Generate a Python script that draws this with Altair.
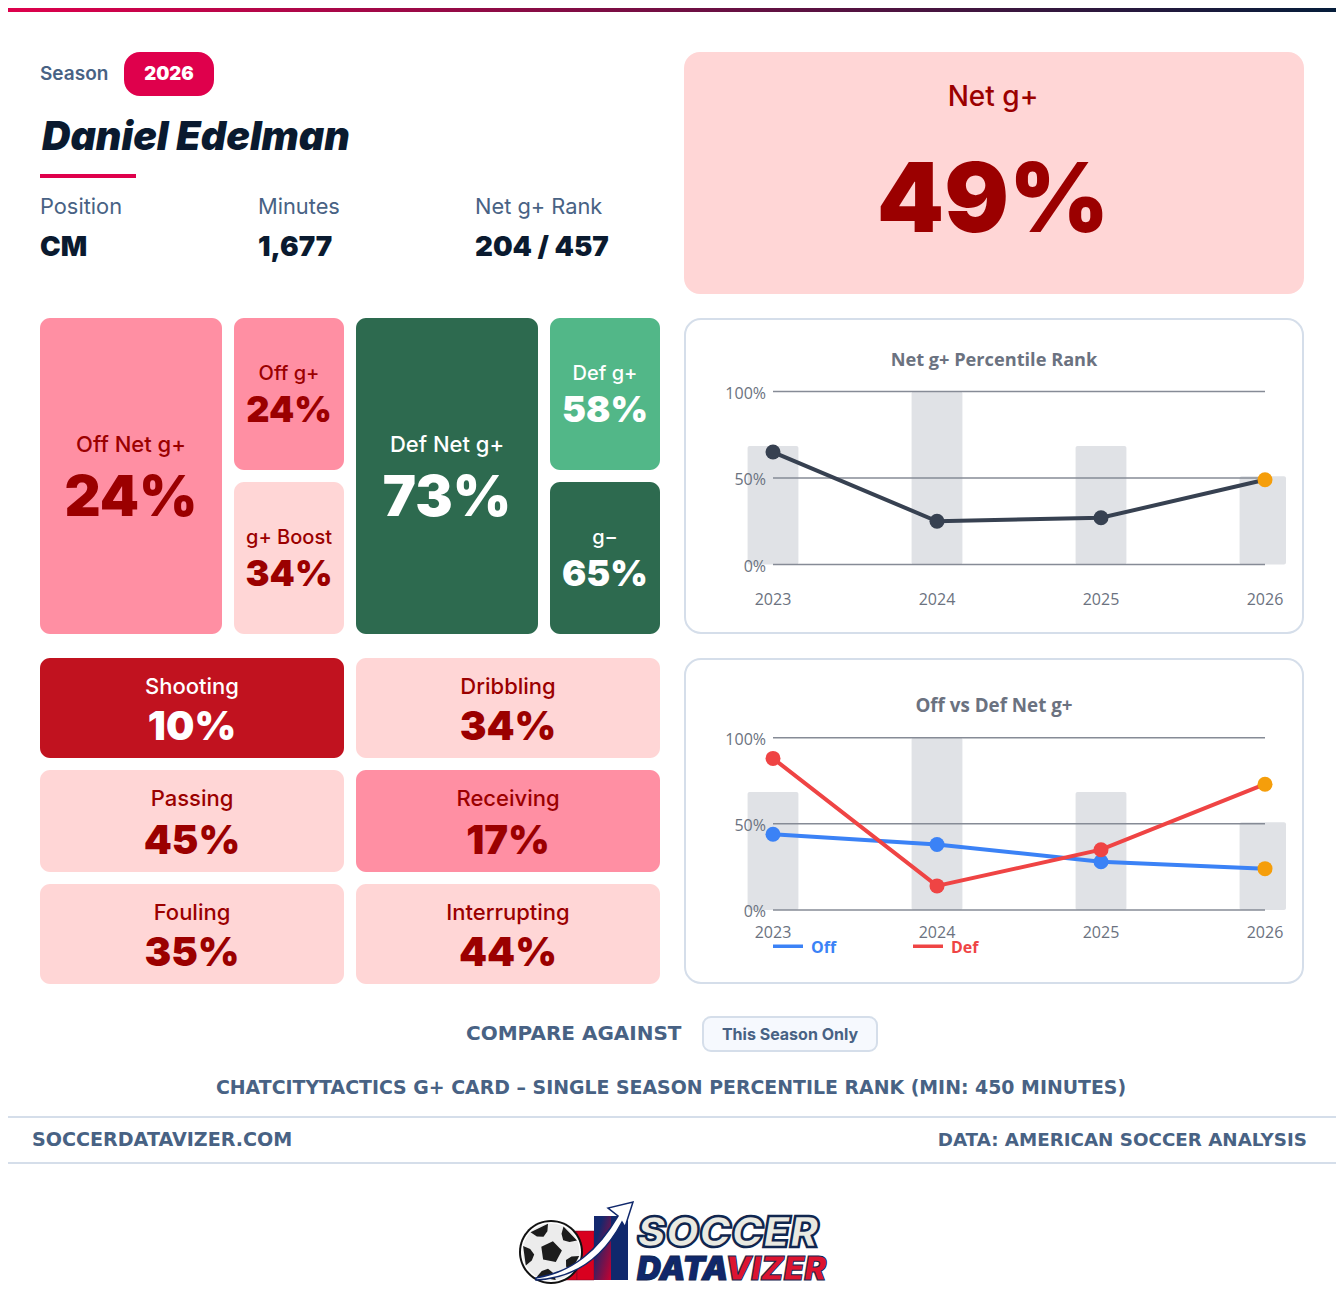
import math
import altair as alt
import pandas as pd

# ---- data -------------------------------------------------------------
years = [2023, 2024, 2025, 2026]
net_rank = [65, 25, 27, 49]
off_rank = [44, 38, 28, 24]
def_rank = [88, 14, 35, 73]
minutes_share = [68.5, 100, 68.5, 51]
y_ticks = [0, 50, 100]
y_labels = ["0%", "50%", "100%"]

player = "Daniel Edelman"
season = "2026"
meta_labels = ["Position", "Minutes", "Net g+ Rank"]
meta_values = ["CM", "1,677", "204 / 457"]

PINK, LIGHT, DKGREEN, GREEN, RED = "#ff8fa3", "#ffd6d6", "#2d6a4f", "#52b788", "#c1121f"
DARKRED, NAVY, SLATE, BORDER = "#9b0000", "#0a1a2f", "#486284", "#d5deea"
ACCENT = "#df004c"
GREY = "#6b7280"
FONT = "Inter"
CHART_FONT = "Open Sans"
WIDE = "DejaVu Sans"

OFF = 8  # page margin
layers = []
one = alt.Data(values=[{}])


def box(x0, y0, x1, y1, fill, r=0, stroke=None, sw=0):
    kw = dict(fill=fill, cornerRadius=r)
    if stroke:
        kw.update(stroke=stroke, strokeWidth=sw)
    layers.append(alt.Chart(one).mark_rect(**kw).encode(
        x=alt.value(x0 - OFF), x2=alt.value(x1 - OFF),
        y=alt.value(y0 - OFF), y2=alt.value(y1 - OFF)))


def txt(s, x, y, size, weight, color, align="left", italic=False, font=FONT, stroke=None, sw=0):
    kw = dict(text=s, font=font, fontSize=size, fontWeight=weight, fill=color,
              align=align, baseline="alphabetic")
    if italic:
        kw["fontStyle"] = "italic"
    if stroke:
        kw.update(stroke=stroke, strokeWidth=sw)
    layers.append(alt.Chart(one).mark_text(**kw).encode(
        x=alt.value(x - OFF), y=alt.value(y - OFF)))


def shape(path, x, y, fill, stroke=None, sw=0):
    kw = dict(shape=path, size=4, filled=True, fill=fill, opacity=1, strokeWidth=sw)
    kw["stroke"] = stroke if stroke else fill
    layers.append(alt.Chart(one).mark_point(**kw).encode(
        x=alt.value(x - OFF), y=alt.value(y - OFF)))


# ---- top bar ------------------------------------------------------------
grad = alt.LinearGradient(gradient="linear", x1=0, x2=1, y1=0, y2=0, stops=[
    alt.GradientStop(color="#df004c", offset=0),
    alt.GradientStop(color="#041d3a", offset=1)])
box(0, 0, 1344, 60, grad, 24)
box(0, 12, 1344, 70, "#ffffff")

# ---- header -------------------------------------------------------------
txt("Season", 40, 80, 19, 600, SLATE)
box(124, 52, 214, 96, ACCENT, 16)
txt(season, 169, 80, 18.5, 900, "#ffffff", "center")
txt(player, 42, 150, 39.4, 900, NAVY, italic=True)
box(40, 174, 136, 178, ACCENT)
for lab, val, x in zip(meta_labels, meta_values, [40, 258, 475]):
    txt(lab, x, 214, 21.8, 400, SLATE)
    txt(val, x, 256, 27.7, 900, NAVY)

box(684, 52, 1304, 294, LIGHT, 16)
txt("Net g+", 993, 106, 28, 500, DARKRED, "center")
txt("49%", 993, 232, 96, 900, DARKRED, "center")

# ---- tiles --------------------------------------------------------------
tiles = [
    ("Off Net g+", "24%", 40, 222, 318, 634, PINK, DARKRED, 452, 22, 516, 56),
    ("Off g+", "24%", 234, 344, 318, 470, PINK, DARKRED, 380, 20, 422, 36),
    ("g+ Boost", "34%", 234, 344, 482, 634, LIGHT, DARKRED, 544, 20, 586, 36),
    ("Def Net g+", "73%", 356, 538, 318, 634, DKGREEN, "#ffffff", 452, 22, 516, 56),
    ("Def g+", "58%", 550, 660, 318, 470, GREEN, "#ffffff", 380, 20, 422, 36),
    ("g\u2212", "65%", 550, 660, 482, 634, DKGREEN, "#ffffff", 544, 20, 586, 36),
    ("Shooting", "10%", 40, 344, 658, 758, RED, "#ffffff", 694, 22, 740, 40),
    ("Dribbling", "34%", 356, 660, 658, 758, LIGHT, DARKRED, 694, 22, 740, 40),
    ("Passing", "45%", 40, 344, 770, 872, LIGHT, DARKRED, 806, 22, 854, 40),
    ("Receiving", "17%", 356, 660, 770, 872, PINK, DARKRED, 806, 22, 854, 40),
    ("Fouling", "35%", 40, 344, 884, 984, LIGHT, DARKRED, 920, 22, 966, 40),
    ("Interrupting", "44%", 356, 660, 884, 984, LIGHT, DARKRED, 920, 22, 966, 40),
]
for lab, val, x0, x1, y0, y1, fill, col, ly, ls, vy, vs in tiles:
    box(x0, y0, x1, y1, fill, 10)
    cx = (x0 + x1) / 2
    txt(lab, cx, ly, ls, 500, col, "center")
    txt(val, cx, vy, vs, 900, col, "center")


# ---- line panels --------------------------------------------------------
def panel(px0, py0, px1, py1, title, title_y, title_size, y100, y0, year_y, series):
    box(px0, py0, px1, py1, "#ffffff", 16, BORDER, 2)
    txt(title, 994, title_y, title_size, 700, GREY, "center", font=CHART_FONT)
    xs = alt.Scale(domain=[2023, 2026], range=[773 - OFF, 1265 - OFF], nice=False, zero=False)
    ys = alt.Scale(domain=[0, 100], range=[y0 - OFF, y100 - OFF], nice=False, zero=False)
    X = alt.X("x:Q", scale=xs, axis=None)
    Y = alt.Y("y:Q", scale=ys, axis=None)
    half, clip = 0.155, 2026.128
    bars = pd.DataFrame({
        "x": [v - half for v in years],
        "x2": [min(v + half, clip) for v in years],
        "y": minutes_share})
    layers.append(alt.Chart(bars).mark_rect(fill="#e0e2e6", cornerRadius=2).encode(
        x=X, x2="x2:Q", y=Y, y2=alt.Y2(datum=0)))
    grid = pd.DataFrame({"x": [2023] * 3, "x2": [2026] * 3, "y": y_ticks, "t": y_labels})
    layers.append(alt.Chart(grid).mark_rule(stroke="#868b96", strokeWidth=1.5).encode(
        x=X, x2="x2:Q", y=Y))
    layers.append(alt.Chart(grid).mark_text(
        font=CHART_FONT, fontSize=16, fontWeight=400, fill=GREY, align="right",
        baseline="alphabetic", dy=7).encode(
        x=alt.value(766 - OFF), y=Y, text="t:N"))
    yr = pd.DataFrame({"x": years, "t": [str(v) for v in years]})
    layers.append(alt.Chart(yr).mark_text(
        font=CHART_FONT, fontSize=16, fontWeight=400, fill=GREY, align="center",
        baseline="alphabetic").encode(
        x=X, y=alt.value(year_y - OFF), text="t:N"))
    for vals, col, w in series:
        d = pd.DataFrame({"x": years, "y": vals})
        layers.append(alt.Chart(d).mark_line(stroke=col, strokeWidth=w).encode(x=X, y=Y))
        layers.append(alt.Chart(d).mark_point(filled=True, size=225, opacity=1).encode(
            x=X, y=Y,
            color=alt.condition("datum.x == 2026", alt.value("#f59e0b"), alt.value(col))))


panel(685, 319, 1303, 633, "Net g+ Percentile Rank", 366, 18.2, 391.5, 564.5, 605,
      [(net_rank, "#374151", 4)])
panel(685, 659, 1303, 983, "Off vs Def Net g+", 712, 18.8, 737.7, 910, 938,
      [(off_rank, "#3b82f6", 4), (def_rank, "#ef4444", 4)])
box(773, 944.5, 803, 948, "#3b82f6")
txt("Off", 811, 953, 16, 700, "#3b82f6", font=CHART_FONT)
box(913, 944.5, 943, 948, "#ef4444")
txt("Def", 951, 953, 16, 700, "#ef4444", font=CHART_FONT)

# ---- footer -------------------------------------------------------------
txt("COMPARE AGAINST", 466, 1040, 20, 800, SLATE, font=WIDE)
box(703, 1017, 877, 1051, "#f6f9fe", 8, BORDER, 2)
txt("This Season Only", 790, 1040, 16, 700, SLATE, "center")
txt("CHATCITYTACTICS G+ CARD \u2013 SINGLE SEASON PERCENTILE RANK (MIN: 450 MINUTES)",
    671, 1094, 18.9, 800, SLATE, "center", font=WIDE)
box(0, 1116, 1344, 1118, BORDER)
box(0, 1162, 1344, 1164, BORDER)
txt("SOCCERDATAVIZER.COM", 32, 1146, 19.1, 800, SLATE, font=WIDE)
txt("DATA: AMERICAN SOCCER ANALYSIS", 1307, 1146, 18.3, 800, SLATE, "right", font=WIDE)

# ---- logo ---------------------------------------------------------------
box(559, 1231, 577, 1280, "#d9001f", stroke="#7a0a28", sw=0.5)
box(577, 1231, 594, 1280, "#d9001f", stroke="#7a0a28", sw=0.5)
g3 = alt.LinearGradient(gradient="linear", x1=0, x2=1, y1=0, y2=1, stops=[
    alt.GradientStop(color="#14286e", offset=0.25),
    alt.GradientStop(color="#c8002f", offset=1)])
box(594, 1216, 611, 1280, g3)
box(611, 1216, 628, 1280, "#10286c")


def circle_path(r):
    return f"M{-r},0A{r},{r} 0 1,1 {r},0A{r},{r} 0 1,1 {-r},0Z"


def poly(pts):
    return "M" + "L".join(f"{a:.1f},{b:.1f}" for a, b in pts) + "Z"


def pol(r, deg):
    return (r * math.cos(math.radians(deg)), r * math.sin(math.radians(deg)))


shape(circle_path(32), 551, 1252, "#111111")
shape(circle_path(30), 551, 1252, "#ffffff")
shape(circle_path(28.5), 551, 1252, "#ececec")
patch = poly([pol(11, a) for a in (-80, -8, 64, 136, 208)])
for a in (-116, -44, 28, 100, 172):
    patch += poly([pol(28.5, a - 20), pol(28.5, a + 20), pol(21, a + 16), pol(17, a), pol(21, a - 16)])
shape(patch, 551, 1252, "#1c1c1c")
arrow = ("M-97,76 C-60,70 -35,48 -15,14 L-25,6 L0,0 L-8,25 L-11,20 "
         "C-30,56 -58,76 -97,78 Z")
shape(arrow, 633, 1202, "#ffffff", "#10286c", 1.5)

txt("SOCCER", 637, 1247, 43, 900, "#e9e9e1", italic=True, stroke="#10264f", sw=2.5)
txt("DATA", 637, 1280, 33, 900, "#10286c", italic=True, stroke="#10264f", sw=1)
txt("VIZER", 725, 1280, 33, 900, "#dc1430", italic=True, stroke="#10264f", sw=1)

# ---- assemble -----------------------------------------------------------
chart = alt.layer(*layers).resolve_scale(x="independent", y="independent", color="independent").properties(
    width=1328, height=1304, padding=0, autosize="none", background="#ffffff"
).configure_view(stroke=None)

chart.save("out.html", embed_options={"renderer": "svg", "actions": False})
